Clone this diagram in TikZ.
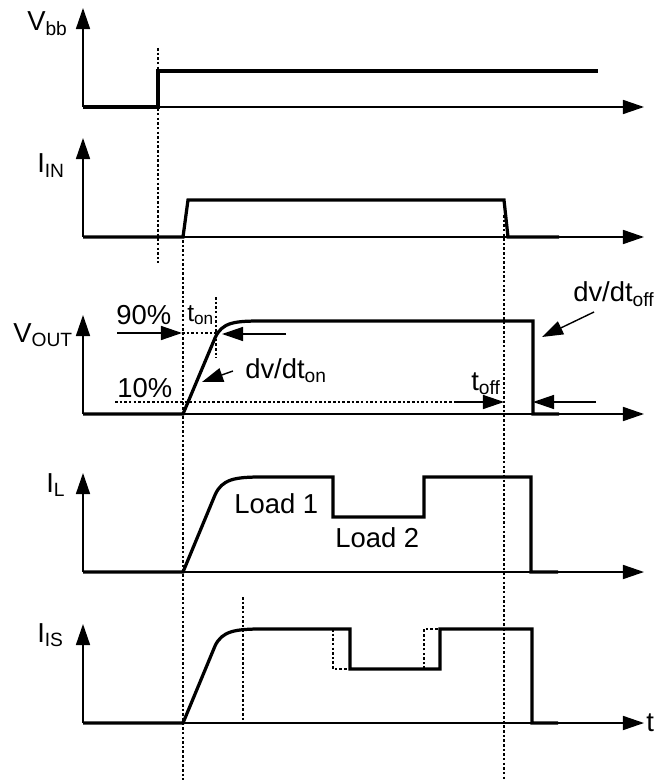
\documentclass[tikz,border=0pt]{standalone}
\usepackage{fontspec}
\setmainfont{Liberation Sans}
\usetikzlibrary{arrows.meta}

\newcommand\lblsmall{\fontsize{17.5}{20}\selectfont}
\newcommand\lblbig{\fontsize{19.5}{23}\selectfont}

\begin{document}
\begin{tikzpicture}[x=0.025cm, y=-0.025cm, >={Triangle[length=15pt,width=10pt]}]

    \tikzstyle{axis}  = [line width=1.1pt, ->]
    \tikzstyle{sig}   = [line width=2.3pt, line join=miter]
    \tikzstyle{guide} = [line width=0.9pt, dash pattern=on 1.8pt off 1.5pt]
    \tikzstyle{note}  = [line width=1pt, ->]
    \tikzstyle{lbl}   = [inner sep=0pt, anchor=base west, font=\lblbig]

    \useasboundingbox (0,0) rectangle (654,780);

    % axes of the five traces
    \foreach \b in {107,237,414,572,723} {
        \draw[axis] (83,\b) -- (83,{\b-99});
        \draw[axis] (83,\b) -- (644,\b);
    }

    % guide lines
    \draw[guide] (158,48)  -- (158,263);
    \draw[guide] (183,240) -- (183,780);
    \draw[guide] (504,215) -- (504,780);
    \draw[guide] (216,297) -- (216,358);
    \draw[guide] (243,597) -- (243,723);
    \draw[guide] (182,333) -- (216,333);
    \draw[guide] (115,402) -- (456,402);

    % traces
    \draw[sig] (83,107) -- (158,107) -- (158,71) -- (598,71);
    \draw[sig] (83,237) -- (183,237) -- (188,200) -- (504,200) -- (508,237) -- (559,237);
    \draw[sig] (83,414) -- (183,414) -- (215,338) .. controls (222,322) and (235,321) .. (262,321)
               -- (533,321) -- (533,414) -- (559,414);
    \draw[sig] (83,572) -- (183,572) -- (215,495) .. controls (222,479) and (235,477) .. (262,477)
               -- (333,477) -- (333,517) -- (424,517) -- (424,477) -- (531,477) -- (531,572) -- (558,572);
    \draw[sig] (83,723) -- (183,723) -- (215,646) .. controls (222,631) and (235,629) .. (262,629)
               -- (350,629) -- (350,669) -- (440,669) -- (440,629) -- (532,629) -- (532,723) -- (558,723);
    \draw[guide] (333,629) -- (333,669) -- (350,669);
    \draw[guide] (424,669) -- (424,629) -- (440,629);

    % labels
    \node[lbl] (vbb)   at (27,31)   {V\textsubscript{bb}};
    \node[lbl] (iin)   at (37,173)  {I\textsubscript{IN}};
    \node[lbl] (vout)  at (13,342)  {V\textsubscript{OUT}};
    \node[lbl] (il)    at (46,492)  {I\textsubscript{L}};
    \node[lbl] (iis)   at (37,642)  {I\textsubscript{IS}};
    \node[lbl] (taxis) at (646,731) {t};

    \node[lbl] (p90)   at (116,324) {90\%};
    \node[lbl] (p10)   at (117,397) {10\%};
    \node[lbl, font=\lblsmall] (ton) at (187,321) {t\textsubscript{on}};
    \node[lbl] (dvon)  at (245,378) {dv/dt\textsubscript{on}};
    \node[lbl] (toff)  at (471,390) {t\textsubscript{off}};
    \node[lbl] (dvoff) at (573,302) {dv/dt\textsubscript{off}};
    \node[lbl] (load1) at (234,513) {Load 1};
    \node[lbl] (load2) at (335,547) {Load 2};

    % annotation arrows
    \draw[note] (117,333) -- (182,333);
    \draw[note] (286,334) -- (222,334);
    \draw[note] (233,371) -- (202,382);
    \draw[note] (456,402) -- (504,402);
    \draw[note] (596,402) -- (533,402);
    \draw[note] (594,312) -- (542,337);
\end{tikzpicture}
\end{document}
